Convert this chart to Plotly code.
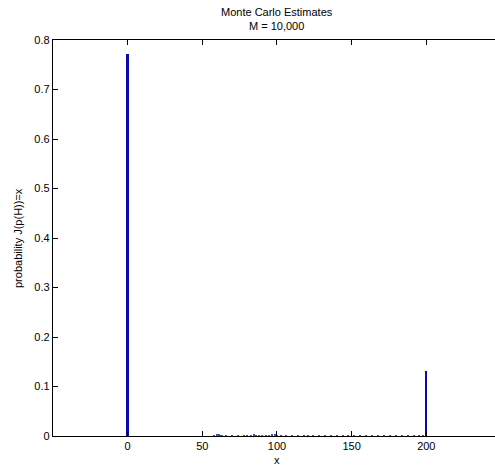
import plotly.graph_objects as go

# main estimates
x_main = [0, 200]
p_main = [0.772, 0.131]

# small tail estimates (approximate)
x_tail = [58, 60, 61, 62, 63, 66, 70, 74, 78, 80, 83, 85, 86, 88, 90, 93, 95, 97, 99, 100,
          103, 106, 110, 114, 118, 121, 124, 128, 132, 136, 140, 144, 148, 152, 156, 160,
          164, 168, 172, 176, 180, 184, 188, 192, 195, 198]
p_tail = [0.001, 0.003, 0.003, 0.002, 0.001, 0.001, 0.001, 0.001, 0.001, 0.002, 0.002, 0.003,
          0.002, 0.001, 0.001, 0.002, 0.002, 0.003, 0.003, 0.002, 0.002, 0.001, 0.001, 0.001,
          0.002, 0.001, 0.002, 0.002, 0.001, 0.001, 0.001, 0.001, 0.001, 0.001, 0.001, 0.001,
          0.001, 0.001, 0.001, 0.001, 0.001, 0.001, 0.001, 0.001, 0.002, 0.002]

x_ticks = [0, 50, 100, 150, 200]
y_ticks = [0, 0.1, 0.2, 0.3, 0.4, 0.5, 0.6, 0.7, 0.8]
y_ticktext = ["0", "0.1", "0.2", "0.3", "0.4", "0.5", "0.6", "0.7", "0.8"]

color = "#0a0aa6"

fig = go.Figure()
fig.add_trace(go.Bar(x=x_tail, y=p_tail, width=0.9, marker=dict(color="#4a4ab8", line=dict(width=0)), showlegend=False))
fig.add_trace(go.Bar(x=x_main, y=p_main, width=1.3, marker=dict(color=color, line=dict(width=0)), showlegend=False))

font = dict(family="Liberation Sans, Arial, sans-serif", size=11, color="black")

fig.update_layout(
    width=495, height=467,
    margin=dict(l=53, r=0, t=40, b=31, autoexpand=False),
    plot_bgcolor="white", paper_bgcolor="white",
    font=font,
    bargap=0,
    xaxis=dict(range=[-50, 246], tickvals=x_ticks, ticks="inside", ticklen=5,
               showline=True, linecolor="black", linewidth=1.3, mirror="ticks",
               showgrid=False, zeroline=False, tickcolor="black", automargin=False),
    yaxis=dict(range=[0, 0.8], tickvals=y_ticks, ticktext=y_ticktext, ticks="inside", ticklen=5,
               showline=True, linecolor="black", linewidth=1.3,
               showgrid=False, zeroline=False, tickcolor="black", automargin=False),
    annotations=[
        dict(text="Monte Carlo Estimates<br>M = 10,000", xref="paper", yref="paper",
             x=(277 - 53) / 442, y=1 + (40 - 4) / 396, xanchor="center", yanchor="top",
             showarrow=False, font=dict(size=11)),
        dict(text="x", xref="paper", yref="paper", x=(277 - 53) / 442, y=-(452 - 436) / 396,
             xanchor="center", yanchor="top", showarrow=False, font=dict(size=11)),
        dict(text="probability J(p(H))=x", xref="paper", yref="paper", x=-(53 - 10) / 442,
             y=0.5, xanchor="left", yanchor="middle", textangle=-90, showarrow=False,
             font=dict(size=11)),
    ],
)

fig.write_html("out.html", config={"displayModeBar": False},
               post_script="document.body.style.margin='0';document.body.style.overflow='hidden';")
